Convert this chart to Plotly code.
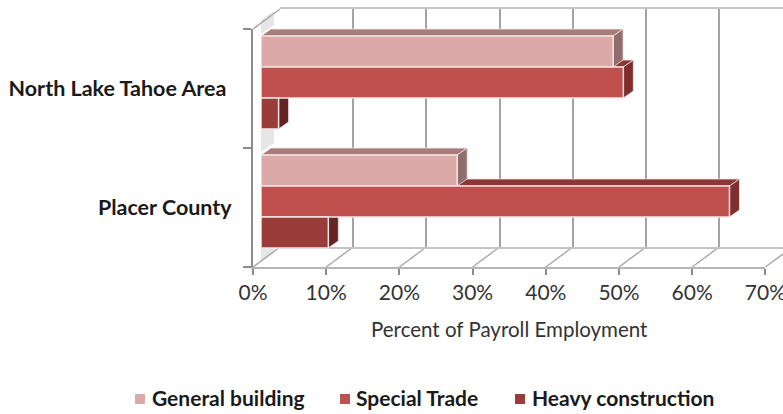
import plotly.graph_objects as go

# ---- data ----
areas = ["North Lake Tahoe Area\u00a0", "Placer County"]
series_names = ["General building", "Special Trade", "Heavy construction"]
general_building = [48.1, 26.8]
special_trade = [49.5, 64.0]
heavy_construction = [2.4, 9.2]
x_ticks = [0, 10, 20, 30, 40, 50, 60, 70]
x_tick_labels = ["0%", "10%", "20%", "30%", "40%", "50%", "60%", "70%"]

# ---- style / geometry ----
W, H = 783, 414
FRONT_X0, FRONT_Y0, FRONT_Y1 = 253, 29, 267
PX_PER_PCT = 7.32
WALL_DX, WALL_DY = 27, 20
BAR_X0, BAR_CY0, BAR_STEP = 261, 82.5, 119
BAR_DX, BAR_DY = 10, 7
BARGAP = 0.22
FONT = "Lato"
front = ["#DBAAA8", "#C0504D", "#9A3C3A"]
top_c = ["#A87C7B", "#8A3735", "#6E2A28"]
side_c = ["#8F6F6E", "#7D2F2D", "#642422"]
edge = "#F3E6E5"
GRID = "#A3A3A3"
legend_key_x = [135, 340, 515]
legend_text_x = [150, 354, 530]


def px(v):
    return v / W


def py(v):
    return 1 - v / H


series = [general_building, special_trade, heavy_construction]
fig = go.Figure()

# invisible anchors for wall / front axes
fig.add_trace(go.Scatter(x=[0], y=[0], xaxis="x", yaxis="y", opacity=0, showlegend=False, hoverinfo="skip"))
fig.add_trace(go.Scatter(x=[0], y=[0], xaxis="x2", yaxis="y2", opacity=0, showlegend=False, hoverinfo="skip"))

for name, vals, c in zip(series_names, series, front):
    fig.add_trace(go.Bar(y=[0, 1], x=vals, name=name, orientation="h", xaxis="x3", yaxis="y3",
                         marker=dict(color=c, line=dict(color=edge, width=1.5)), showlegend=False))

shapes = []

# side-wall soft bands
for ya, yb in [(20, 34), (129, 152), (247, 262)]:
    shapes.append(dict(type="path", xref="paper", yref="paper", layer="below", line=dict(width=0),
                       fillcolor="#E6E6E6",
                       path=f"M{px(261)},{py(yb)} L{px(274)},{py(yb-9)} L{px(274)},{py(ya-9)} L{px(261)},{py(ya)} Z"))

# floor and wall diagonals
for k in x_ticks:
    xa = FRONT_X0 + k * PX_PER_PCT
    shapes.append(dict(type="line", xref="paper", yref="paper", layer="below",
                       x0=px(xa), y0=py(FRONT_Y1), x1=px(xa + WALL_DX), y1=py(FRONT_Y1 - WALL_DY),
                       line=dict(color="#ABABAB", width=1.5)))
shapes.append(dict(type="line", xref="paper", yref="paper", layer="below",
                   x0=px(FRONT_X0), y0=py(FRONT_Y0), x1=px(FRONT_X0 + WALL_DX), y1=py(FRONT_Y0 - WALL_DY),
                   line=dict(color="#ABABAB", width=1.5)))

# bar depth faces, derived from the values through the bar axes
w = (1 - BARGAP) / 3
ux, uy = BAR_DX / PX_PER_PCT, BAR_DY / BAR_STEP
for i in (2, 1, 0):
    yt_off = -(1 - BARGAP) / 2 + i * w
    for cat in range(2):
        v = series[i][cat]
        yt, yb = cat + yt_off, cat + yt_off + w
        shapes.append(dict(type="path", xref="x3", yref="y3", layer="below", fillcolor=top_c[i],
                           line=dict(color=edge, width=0.75),
                           path=f"M0,{yt} L{ux},{yt-uy} L{v+ux},{yt-uy} L{v},{yt} Z"))
        shapes.append(dict(type="path", xref="x3", yref="y3", layer="below", fillcolor=side_c[i],
                           line=dict(color=edge, width=0.75),
                           path=f"M{v},{yt} L{v+ux},{yt-uy} L{v+ux},{yb-uy} L{v},{yb} Z"))

# legend keys
annotations = []
for kx, tx, name, c in zip(legend_key_x, legend_text_x, series_names, front):
    shapes.append(dict(type="rect", xref="paper", yref="paper", x0=px(kx), x1=px(kx + 10),
                       y0=py(404), y1=py(394), fillcolor=c, line=dict(width=0)))
    annotations.append(dict(text=f"<b>{name}</b>", xref="paper", yref="paper", x=px(tx), y=py(397.5),
                            xanchor="left", yanchor="middle", showarrow=False,
                            font=dict(family=FONT, size=21, color="#1A1A1A")))
annotations.append(dict(text="Percent of Payroll Employment", xref="paper", yref="paper", x=px(510), y=py(329),
                        xanchor="center", yanchor="middle", showarrow=False,
                        font=dict(family=FONT, size=20.5, color="#333333")))

wall_x_max = (W - FRONT_X0 - WALL_DX) / PX_PER_PCT
bar_x_max = (W - BAR_X0) / PX_PER_PCT

fig.update_layout(
    template="none",
    width=W, height=H, margin=dict(l=0, r=0, t=0, b=0),
    paper_bgcolor="white", plot_bgcolor="rgba(0,0,0,0)",
    barmode="group", bargap=BARGAP, bargroupgap=0,
    showlegend=False, shapes=shapes, annotations=annotations,
    # back wall
    xaxis=dict(domain=[px(FRONT_X0 + WALL_DX), 1], range=[0, wall_x_max], tickvals=x_ticks[:-1],
               showticklabels=False, ticks="", showgrid=True, gridcolor=GRID, gridwidth=2, zeroline=False,
               showline=True, linecolor="#C4C4C4", linewidth=2, mirror=True, anchor="y", automargin=False),
    yaxis=dict(domain=[py(FRONT_Y1 - WALL_DY), py(FRONT_Y0 - WALL_DY)], range=[0, 1], showticklabels=False,
               ticks="", showgrid=False, zeroline=False, anchor="x", automargin=False),
    # front axes
    xaxis2=dict(domain=[px(FRONT_X0), px(FRONT_X0 + 70 * PX_PER_PCT)], range=[0, 70], tickvals=x_ticks,
                ticktext=x_tick_labels, ticks="outside", ticklen=6, tickcolor="#8C8C8C", tickwidth=2,
                showgrid=False, zeroline=False, showline=True, linecolor="#B5B5B5", linewidth=2,
                ticklabeloverflow="allow",
                tickfont=dict(family=FONT, size=21, color="#333333"), anchor="y2", automargin=False),
    yaxis2=dict(domain=[py(FRONT_Y1), py(FRONT_Y0)], range=[1.5, -0.5], tickvals=[0, 1], ticktext=areas,
                ticks="", showgrid=False, zeroline=False, showline=True, linecolor="#8C8C8C", linewidth=2,
                tickfont=dict(family=FONT, size=21.5, color="#1A1A1A", weight=700), ticklabelstandoff=15,
                minor=dict(tickvals=[-0.5, 0.5, 1.5], ticks="outside", ticklen=8, tickcolor="#8C8C8C", tickwidth=2),
                anchor="x2", automargin=False),
    # bar plane
    xaxis3=dict(domain=[px(BAR_X0), 1], range=[0, bar_x_max], visible=False, anchor="y3", automargin=False),
    yaxis3=dict(domain=[0, 1], range=[(H - BAR_CY0) / BAR_STEP, -BAR_CY0 / BAR_STEP], visible=False,
                anchor="x3", automargin=False),
)

fig.write_html("out.html", config=dict(displayModeBar=False),
               post_script="document.body.style.margin='0';")
